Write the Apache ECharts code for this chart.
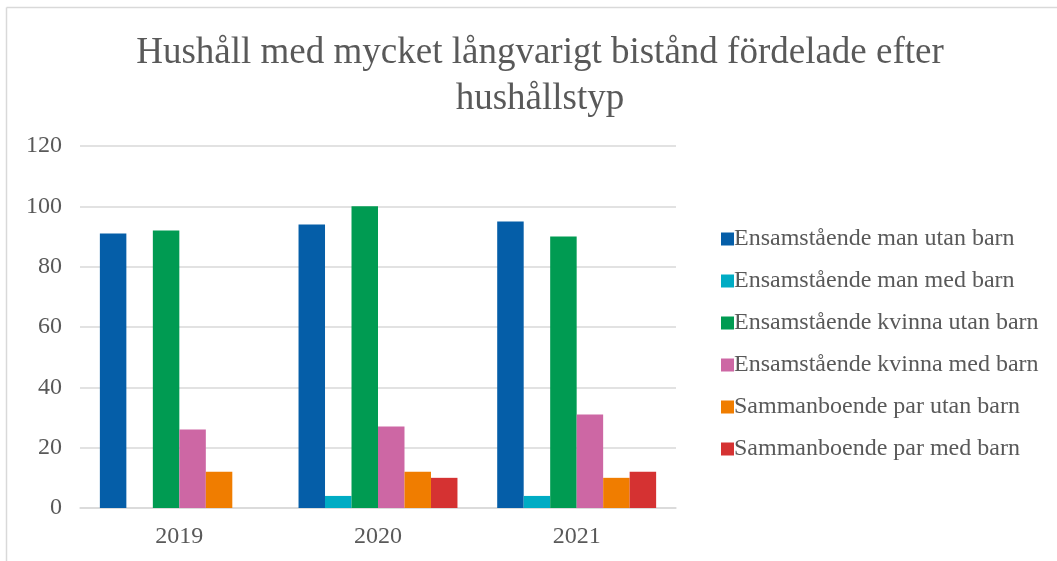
<!DOCTYPE html>
<html>
<head>
<meta charset="utf-8">
<script src="https://cdn.jsdelivr.net/npm/echarts@6/dist/echarts.min.js"></script>
<style>
html,body{margin:0;padding:0;background:#fff;}
#c{width:1057px;height:561px;}
</style>
</head>
<body>
<div id="c"></div>
<script>
const titleText = "Hushåll med mycket långvarigt bistånd fördelade efter\nhushållstyp";
const categories = ["2019", "2020", "2021"];
const seriesNames = [
  "Ensamstående man utan barn",
  "Ensamstående man med barn",
  "Ensamstående kvinna utan barn",
  "Ensamstående kvinna med barn",
  "Sammanboende par utan barn",
  "Sammanboende par med barn"
];
const manUtanBarn = [91, 94, 95];
const manMedBarn = [0, 4, 4];
const kvinnaUtanBarn = [92, 100, 90];
const kvinnaMedBarn = [26, 27, 31];
const parUtanBarn = [12, 12, 10];
const parMedBarn = [0, 10, 12];
const colors = ["#055ea8", "#00acc4", "#009b52", "#cd67a4", "#f07d00", "#d53232"];

const seriesData = [manUtanBarn, manMedBarn, kvinnaUtanBarn, kvinnaMedBarn, parUtanBarn, parMedBarn];
const font = "'Liberation Serif', 'DejaVu Serif', serif";
const chart = echarts.init(document.getElementById('c'));
chart.setOption({
  animation: false,
  backgroundColor: '#fff',
  color: colors,
  title: {
    text: titleText,
    left: 535,
    textAlign: 'center',
    top: 25,
    textStyle: {fontFamily: font, fontSize: 37, fontWeight: 'normal', color: '#595959', lineHeight: 46}
  },
  graphic: [
    {type: 'line', shape: {x1: 6.5, y1: 7.5, x2: 1057, y2: 7.5}, style: {stroke: '#d9d9d9', lineWidth: 1.5}},
    {type: 'line', shape: {x1: 6.5, y1: 7.5, x2: 6.5, y2: 561}, style: {stroke: '#d9d9d9', lineWidth: 1.5}}
  ],
  legend: {
    orient: 'vertical',
    left: 716,
    top: 222,
    itemWidth: 13,
    itemHeight: 13,
    itemGap: 18,
    icon: 'rect',
    textStyle: {fontFamily: font, fontSize: 24, color: '#595959', padding: [0, 0, 0, -5]},
    data: seriesNames
  },
  grid: {left: 80, right: 381, top: 146, bottom: 53, containLabel: false},
  xAxis: {
    type: 'category',
    data: categories,
    axisLine: {lineStyle: {color: '#d9d9d9', width: 1.5}},
    axisTick: {show: false},
    axisLabel: {fontFamily: font, fontSize: 24, color: '#595959', margin: 17}
  },
  yAxis: {
    type: 'value',
    min: 0, max: 120, interval: 20,
    axisLine: {show: false},
    axisTick: {show: false},
    splitLine: {lineStyle: {color: '#d9d9d9', width: 1.5}},
    axisLabel: {fontFamily: font, fontSize: 24, color: '#595959', margin: 18}
  },
  series: seriesNames.map((n, i) => ({
    name: n,
    type: 'bar',
    data: seriesData[i],
    barGap: '0%',
    barCategoryGap: '20%',
    itemStyle: {color: colors[i]}
  }))
});
</script>
</body>
</html>
